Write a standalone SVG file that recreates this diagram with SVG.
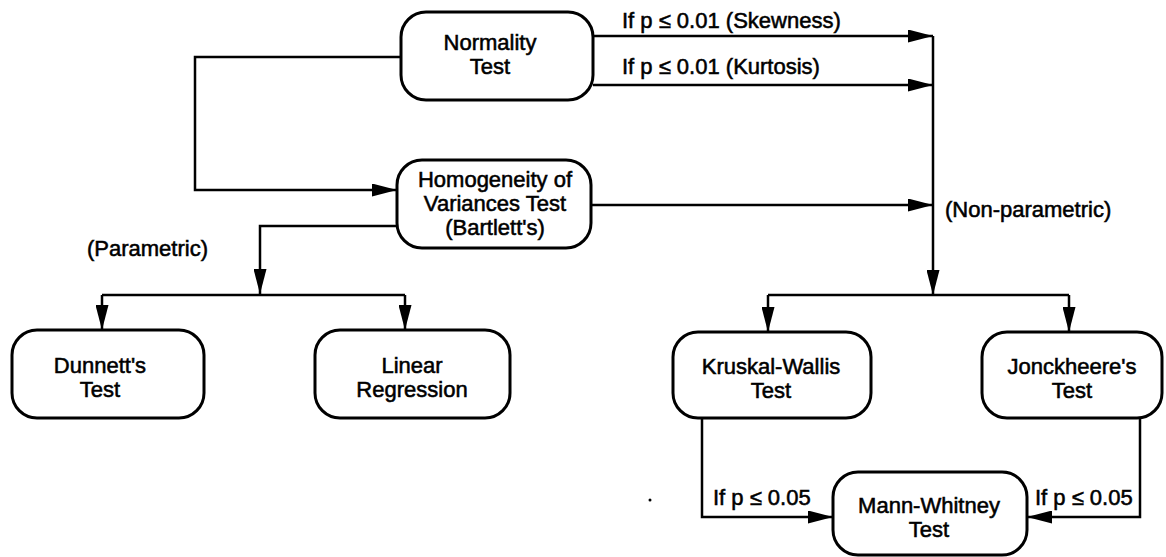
<svg xmlns="http://www.w3.org/2000/svg" width="1166" height="557" viewBox="0 0 1166 557">
<style>
.box{fill:#fff;stroke:#000;stroke-width:3}
.ln{fill:none;stroke:#000;stroke-width:2.5}
text{font-family:"Liberation Sans",Arial,Helvetica,sans-serif;font-size:22px;fill:#000;stroke:#000;stroke-width:0.55}
.c{text-anchor:middle}
</style>
<defs>
<marker id="arr" markerUnits="userSpaceOnUse" markerWidth="25" markerHeight="13" refX="25" refY="6.5" orient="auto">
<path d="M0,0 L25,6.5 L0,13 z" fill="#000"/>
</marker>
</defs>
<rect width="1166" height="557" fill="#fff"/>
<g id="connectors">
<path class="ln" d="M401,57 H195 V190 H397" marker-end="url(#arr)"/>
<path class="ln" d="M593,36 H933" marker-end="url(#arr)"/>
<path class="ln" d="M593,85 H933" marker-end="url(#arr)"/>
<path class="ln" d="M933,36 V295" marker-end="url(#arr)"/>
<path class="ln" d="M591,205 H933" marker-end="url(#arr)"/>
<path class="ln" d="M397,226 H260 V294" marker-end="url(#arr)"/>
<path class="ln" d="M102,295 H405"/>
<path class="ln" d="M102,295 V330" marker-end="url(#arr)"/>
<path class="ln" d="M405,295 V330" marker-end="url(#arr)"/>
<path class="ln" d="M768,295 H1069"/>
<path class="ln" d="M768,295 V332" marker-end="url(#arr)"/>
<path class="ln" d="M1069,295 V332" marker-end="url(#arr)"/>
<path class="ln" d="M702,418 V517 H833" marker-end="url(#arr)"/>
<path class="ln" d="M1140,418 V517 H1027" marker-end="url(#arr)"/>
<text x="622" y="28">If p ≤ 0.01 (Skewness)</text>
<text x="622" y="74">If p ≤ 0.01 (Kurtosis)</text>
<text x="945" y="217">(Non-parametric)</text>
<text x="87" y="256">(Parametric)</text>
<text x="713" y="505">If p ≤ 0.05</text>
<text x="1035" y="505">If p ≤ 0.05</text>
</g>
<g id="normality">
<rect class="box" x="401" y="12" width="192" height="88" rx="25"/>
<text class="c" x="490" y="50">Normality</text>
<text class="c" x="490" y="74">Test</text>
</g>
<g id="homogeneity">
<rect class="box" x="397" y="160" width="194" height="88" rx="25"/>
<text class="c" x="495" y="187">Homogeneity of</text>
<text class="c" x="495" y="211">Variances Test</text>
<text class="c" x="495" y="235">(Bartlett's)</text>
</g>
<g id="dunnett">
<rect class="box" x="12" y="330" width="192" height="88" rx="25"/>
<text class="c" x="100" y="373">Dunnett's</text>
<text class="c" x="100" y="397">Test</text>
</g>
<g id="linear">
<rect class="box" x="315" y="330" width="195" height="88" rx="25"/>
<text class="c" x="412" y="373">Linear</text>
<text class="c" x="412" y="397">Regression</text>
</g>
<g id="kruskal">
<rect class="box" x="673" y="332" width="198" height="86" rx="25"/>
<text class="c" x="771" y="374">Kruskal-Wallis</text>
<text class="c" x="771" y="398">Test</text>
</g>
<g id="jonckheere">
<rect class="box" x="982" y="332" width="180" height="86" rx="25"/>
<text class="c" x="1072" y="374">Jonckheere's</text>
<text class="c" x="1072" y="398">Test</text>
</g>
<g id="mannwhitney">
<rect class="box" x="833" y="472" width="194" height="83" rx="25"/>
<text class="c" x="929" y="513">Mann-Whitney</text>
<text class="c" x="929" y="537">Test</text>
</g>
<circle cx="650" cy="500" r="1.5" fill="#000"/>
</svg>
